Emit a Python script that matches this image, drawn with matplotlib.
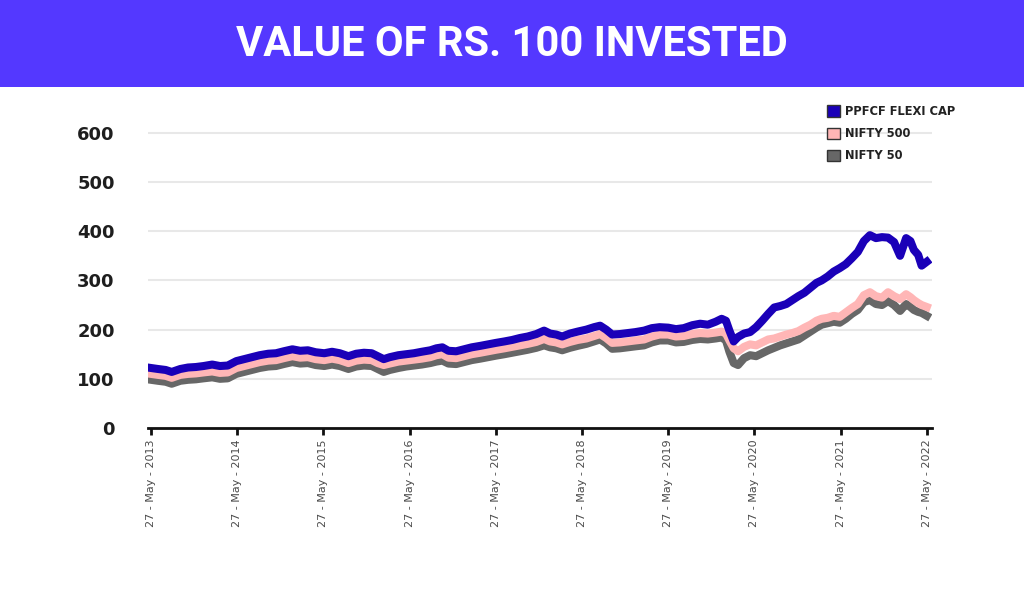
import matplotlib.pyplot as plt
from matplotlib.patches import Patch, Rectangle

# years since 27 May 2013
years = [0.00, 0.08, 0.17, 0.24, 0.34, 0.43, 0.52, 0.61, 0.71, 0.80,
         0.89, 0.99, 1.08, 1.17, 1.26, 1.36, 1.45, 1.54, 1.64, 1.73,
         1.82, 1.91, 2.01, 2.10, 2.19, 2.29, 2.38, 2.47, 2.56, 2.63,
         2.70, 2.77, 2.87, 2.96, 3.05, 3.14, 3.24, 3.31, 3.38, 3.45,
         3.54, 3.63, 3.72, 3.82, 3.91, 4.00, 4.10, 4.19, 4.28, 4.37,
         4.47, 4.56, 4.63, 4.70, 4.77, 4.86, 4.95, 5.05, 5.14, 5.21,
         5.28, 5.35, 5.44, 5.53, 5.62, 5.72, 5.81, 5.90, 6.00, 6.09,
         6.18, 6.28, 6.37, 6.46, 6.55, 6.62, 6.67, 6.71, 6.76, 6.81,
         6.88, 6.95, 7.02, 7.09, 7.16, 7.23, 7.30, 7.37, 7.44, 7.51,
         7.58, 7.65, 7.72, 7.78, 7.85, 7.92, 7.99, 8.06, 8.13, 8.20,
         8.27, 8.34, 8.41, 8.48, 8.55, 8.62, 8.69, 8.76, 8.81, 8.85,
         8.90, 8.94, 9.00]

ppfcf = [122, 120, 118, 114, 120, 123, 124, 126, 129, 126,
         127, 136, 140, 144, 148, 151, 152, 156, 160, 157,
         158, 154, 152, 155, 152, 146, 151, 153, 152, 146,
         140, 144, 148, 150, 152, 155, 158, 162, 164, 157,
         156, 160, 164, 167, 170, 173, 176, 179, 183, 186,
         191, 198, 192, 190, 186, 192, 196, 200, 205, 208,
         200, 190, 191, 193, 195, 198, 203, 205, 204, 201,
         203, 209, 212, 210, 216, 222, 218, 198, 176, 185,
         192, 195, 205, 218, 232, 245, 248, 252, 260, 268,
         275, 285, 295, 300, 308, 318, 325, 333, 345, 358,
         380, 392, 386, 388, 387, 378, 350, 386, 380, 362,
         352, 330, 338]

nifty500 = [110, 108, 106, 102, 108, 110, 111, 113, 115, 112,
            113, 122, 126, 130, 134, 137, 138, 142, 146, 143,
            144, 140, 138, 141, 138, 132, 137, 139, 138, 132,
            128, 131, 135, 137, 139, 141, 144, 148, 150, 143,
            142, 146, 150, 153, 156, 159, 162, 165, 168, 171,
            175, 181, 176, 174, 170, 175, 179, 182, 187, 191,
            183, 173, 174, 176, 178, 180, 186, 190, 190, 186,
            187, 191, 193, 192, 194, 196, 192, 178, 162, 156,
            165, 170, 168, 174, 180, 182, 186, 190, 193, 197,
            204, 210, 218, 222, 224, 228, 226, 235, 244, 252,
            270, 276, 268, 265, 276, 268, 262, 272, 266, 260,
            254, 250, 246]

nifty50 = [98, 96, 94, 90, 96, 98, 99, 101, 103, 100,
           101, 110, 114, 118, 122, 125, 126, 130, 134, 131,
           132, 128, 126, 129, 126, 120, 125, 127, 126, 120,
           114, 118, 122, 125, 127, 129, 132, 135, 137, 131,
           130, 134, 138, 141, 144, 147, 150, 153, 156, 159,
           163, 168, 164, 162, 158, 163, 167, 171, 176, 180,
           172, 161, 162, 164, 166, 168, 174, 178, 178, 174,
           175, 179, 181, 180, 182, 184, 178, 155, 132, 128,
           142, 148, 146, 152, 158, 163, 168, 172, 176, 180,
           188, 196, 204, 210, 213, 216, 214, 222, 232, 240,
           256, 260, 252, 250, 258, 250, 238, 252, 246, 240,
           236, 234, 228]

tick_years = list(range(10))
tick_labels = [f"27 - May - {2013 + i}" for i in tick_years]
y_ticks = [0, 100, 200, 300, 400, 500, 600]

blue = "#1a00b8"
pink = "#ffb6b6"
gray = "#676767"

fig = plt.figure(figsize=(10.24, 6.14), dpi=100)

# title banner
fig.patches.append(Rectangle((0, 0.858), 1, 0.142, transform=fig.transFigure,
                             facecolor="#5438ff", edgecolor="none", zorder=0))
fig.text(0.5, 0.928, "VALUE OF RS. 100 INVESTED", color="white", fontsize=30,
         fontweight="bold", ha="center", va="center",
         family=["Liberation Sans Narrow", "Roboto", "DejaVu Sans"])

ax = fig.add_axes([148 / 1024, 0.3029, 0.7656, 0.4968])

ax.plot(years, nifty50, color=gray, lw=5.8, solid_joinstyle="round", zorder=3)
ax.plot(years, nifty500, color=pink, lw=5.8, solid_joinstyle="round", zorder=4)
ax.plot(years, ppfcf, color=blue, lw=5.8, solid_joinstyle="round", zorder=5)

ax.set_xlim(-0.035, 9.06)
ax.set_ylim(0, 620)
ax.set_yticks(y_ticks)
ax.set_yticklabels([str(v) for v in y_ticks], fontsize=13, fontweight="bold", color="#1e1e1e")
ax.set_xticks(tick_years)
ax.set_xticklabels(tick_labels, rotation=90, fontsize=8, color="#4a4a4a")
ax.tick_params(axis="y", length=0, pad=24)
ax.tick_params(axis="x", length=5, width=2, color="#111", pad=3)

ax.grid(axis="y", color="#e8e8e8", lw=1.5, zorder=0)
for s in ["top", "right", "left"]:
    ax.spines[s].set_visible(False)
ax.spines["bottom"].set_linewidth(2)
ax.spines["bottom"].set_color("#111")
ax.spines["bottom"].set_zorder(6)

handles = [Patch(facecolor=blue, edgecolor="#333", lw=1, label="PPFCF FLEXI CAP"),
           Patch(facecolor=pink, edgecolor="#333", lw=1, label="NIFTY 500"),
           Patch(facecolor=gray, edgecolor="#333", lw=1, label="NIFTY 50")]
leg = fig.legend(handles=handles, loc="upper left", bbox_to_anchor=(0.797, 0.846),
                 frameon=False, handlelength=1.15, handleheight=1.15, handletextpad=0.45,
                 labelspacing=0.8, prop={"size": 8.3, "weight": "bold"})
for t in leg.get_texts():
    t.set_color("#222")

fig.savefig("out.png", dpi=100)
